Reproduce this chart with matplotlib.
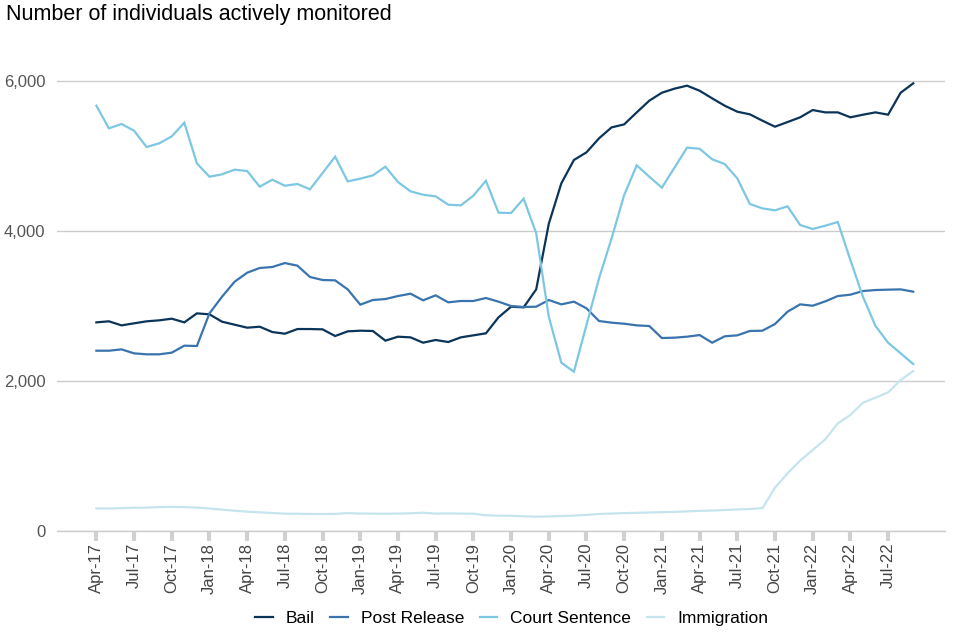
import numpy as np
import matplotlib.pyplot as plt

plt.rcParams['font.family'] = ['Liberation Sans', 'DejaVu Sans']

# Monthly values, Apr-17 to Sep-22
months = ['Apr-17', 'May-17', 'Jun-17', 'Jul-17', 'Aug-17', 'Sep-17', 'Oct-17', 'Nov-17', 'Dec-17',
          'Jan-18', 'Feb-18', 'Mar-18', 'Apr-18', 'May-18', 'Jun-18', 'Jul-18', 'Aug-18', 'Sep-18',
          'Oct-18', 'Nov-18', 'Dec-18', 'Jan-19', 'Feb-19', 'Mar-19', 'Apr-19', 'May-19', 'Jun-19',
          'Jul-19', 'Aug-19', 'Sep-19', 'Oct-19', 'Nov-19', 'Dec-19', 'Jan-20', 'Feb-20', 'Mar-20',
          'Apr-20', 'May-20', 'Jun-20', 'Jul-20', 'Aug-20', 'Sep-20', 'Oct-20', 'Nov-20', 'Dec-20',
          'Jan-21', 'Feb-21', 'Mar-21', 'Apr-21', 'May-21', 'Jun-21', 'Jul-21', 'Aug-21', 'Sep-21',
          'Oct-21', 'Nov-21', 'Dec-21', 'Jan-22', 'Feb-22', 'Mar-22', 'Apr-22', 'May-22', 'Jun-22',
          'Jul-22', 'Aug-22', 'Sep-22']

bail = [2782, 2796, 2742, 2769, 2796, 2809, 2831, 2782, 2902, 2889,
        2791, 2751, 2711, 2724, 2653, 2631, 2693, 2693, 2689, 2600,
        2662, 2671, 2667, 2538, 2591, 2582, 2511, 2547, 2520, 2582,
        2609, 2636, 2849, 2991, 2982, 3222, 4095, 4636, 4947, 5049,
        5236, 5382, 5422, 5582, 5738, 5844, 5898, 5938, 5871, 5769,
        5671, 5591, 5556, 5471, 5391, 5453, 5516, 5613, 5582, 5582,
        5516, 5551, 5582, 5551, 5844, 5969]

post_release = [2404, 2404, 2422, 2369, 2356, 2356, 2378, 2471, 2467, 2902,
                3124, 3324, 3444, 3507, 3520, 3573, 3538, 3387, 3347, 3342,
                3222, 3018, 3080, 3093, 3133, 3164, 3076, 3142, 3049, 3067,
                3067, 3107, 3058, 3000, 2987, 2991, 3080, 3022, 3058, 2969,
                2800, 2778, 2764, 2742, 2733, 2573, 2578, 2591, 2613, 2511,
                2596, 2609, 2667, 2671, 2760, 2924, 3022, 3004, 3062, 3133,
                3151, 3200, 3213, 3218, 3222, 3191]

court_sentence = [5671, 5369, 5427, 5338, 5120, 5169, 5262, 5444, 4902, 4724,
                  4756, 4818, 4800, 4591, 4684, 4604, 4627, 4556, 4773, 4991,
                  4662, 4698, 4742, 4858, 4653, 4529, 4484, 4462, 4351, 4342,
                  4471, 4671, 4244, 4240, 4431, 3969, 2858, 2244, 2124, 2747,
                  3369, 3902, 4480, 4876, 4724, 4578, 4844, 5111, 5098, 4956,
                  4893, 4702, 4360, 4302, 4276, 4329, 4080, 4027, 4071, 4120,
                  3613, 3124, 2733, 2511, 2369, 2227]

immigration = [302, 300, 305, 310, 312, 318, 322, 318, 312, 300,
               285, 270, 258, 249, 240, 231, 230, 227, 227, 228,
               238, 233, 231, 230, 232, 236, 244, 232, 235, 232,
               231, 210, 205, 203, 196, 191, 195, 200, 205, 215,
               227, 233, 238, 243, 247, 251, 255, 262, 268, 273,
               280, 287, 293, 305, 578, 769, 938, 1080, 1222, 1436,
               1547, 1711, 1778, 1849, 2013, 2133]

series = [('Bail', bail, '#0b3459'),
          ('Post Release', post_release, '#3a74ae'),
          ('Court Sentence', court_sentence, '#7dc7e2'),
          ('Immigration', immigration, '#c6e4ee')]

fig = plt.figure(figsize=(9.6, 6.4), dpi=100)
ax = fig.add_axes([0.059, 0.1703, 0.925, 0.7324])

x = np.arange(len(months))
for name, vals, col in series:
    ax.plot(x, vals, color=col, lw=1.6, label=name, solid_joinstyle='miter')

ax.set_xlim(-3.16, 67.5)
ax.set_ylim(0, 6250)
ax.set_yticks([0, 2000, 4000, 6000])
ax.set_yticklabels(['0', '2,000', '4,000', '6,000'], fontsize=12, color='#555555')
ax.yaxis.grid(True, color='#cccccc', lw=1)
ax.set_axisbelow(True)
ax.tick_params(axis='y', length=0, pad=8)

ax.set_xticks(x[::3])
ax.set_xticklabels(months[::3], rotation=90, fontsize=12, color='#444444')
ax.tick_params(axis='x', length=7, width=3, color='#d0d0d0', pad=1.5)

for s in ['top', 'right', 'left']:
    ax.spines[s].set_visible(False)
ax.spines['bottom'].set_color('#cccccc')
ax.spines['bottom'].set_linewidth(1)

fig.text(0.006, 0.978, 'Number of individuals actively monitored', fontsize=15.5,
         va='center', ha='left', color='black')

fig.legend(loc='center', bbox_to_anchor=(0.533, 0.034), ncol=4, frameon=False,
           fontsize=12.5, handlelength=1.0, handletextpad=0.75, columnspacing=0.9)

fig.savefig('out.png', dpi=100)
